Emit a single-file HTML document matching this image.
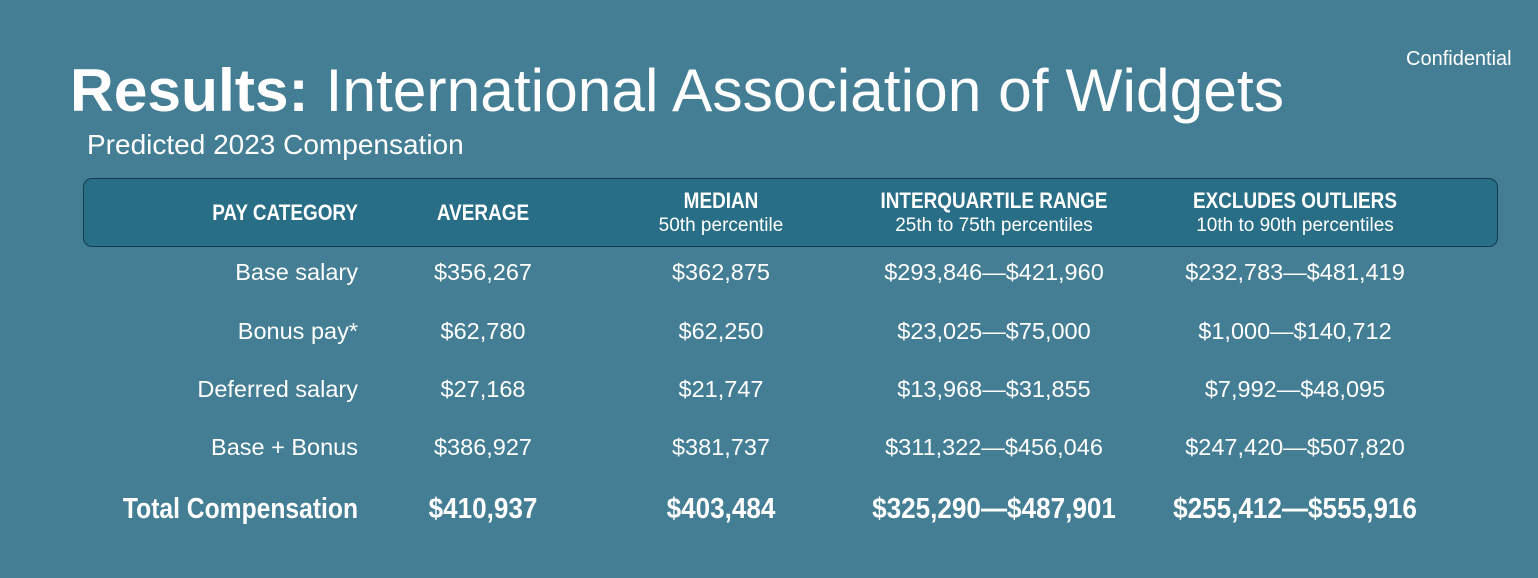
<!DOCTYPE html>
<html><head><style>
body{margin:0;width:1538px;height:578px;overflow:hidden;background:#437e94;font-family:"Liberation Sans",Arial,sans-serif;color:#fff;position:relative}
div{position:absolute;white-space:nowrap}
.c{transform:translateX(-50%);text-align:center}
.r{transform:translateX(-100%);text-align:right}
.h{font-weight:bold;font-size:22px;line-height:24px;transform-origin:0 0}
.h.c{transform:scaleX(.86) translateX(-50%)}
.h.r{transform:scaleX(.86) translateX(-100%)}
.s{font-size:19px;line-height:20px}
.v{font-size:23.5px;line-height:26px}
.t{font-weight:bold;font-size:29px;line-height:30px;transform-origin:0 0}
.t.c{transform:scaleX(.9) translateX(-50%)}
.t.r{transform:scaleX(.85) translateX(-100%)}
</style></head><body>
<div style="left:1406px;top:48px;font-size:20px">Confidential</div>
<div style="left:70px;top:56px;font-size:60.5px;line-height:68px"><b>Results:</b> International Association of Widgets</div>
<div style="left:87px;top:129px;font-size:28px;line-height:32px">Predicted 2023 Compensation</div>
<div style="left:83px;top:178px;width:1413px;height:67px;background:#296e87;border:1px solid #143c4c;border-radius:9px"></div>
<div class="h r" style="left:358px;top:201px">PAY CATEGORY</div>
<div class="h c" style="left:483px;top:201px">AVERAGE</div>
<div class="h c" style="left:721px;top:189px">MEDIAN</div>
<div class="s c" style="left:721px;top:216px">50th percentile</div>
<div class="h c" style="left:994px;top:189px">INTERQUARTILE RANGE</div>
<div class="s c" style="left:994px;top:216px">25th to 75th percentiles</div>
<div class="h c" style="left:1295px;top:189px">EXCLUDES OUTLIERS</div>
<div class="s c" style="left:1295px;top:216px">10th to 90th percentiles</div>

<div class="v r" style="left:358px;top:259px">Base salary</div>
<div class="v c" style="left:483px;top:259px">$356,267</div>
<div class="v c" style="left:721px;top:259px">$362,875</div>
<div class="v c" style="left:994px;top:259px">$293,846—$421,960</div>
<div class="v c" style="left:1295px;top:259px">$232,783—$481,419</div>

<div class="v r" style="left:358px;top:318px">Bonus pay*</div>
<div class="v c" style="left:483px;top:318px">$62,780</div>
<div class="v c" style="left:721px;top:318px">$62,250</div>
<div class="v c" style="left:994px;top:318px">$23,025—$75,000</div>
<div class="v c" style="left:1295px;top:318px">$1,000—$140,712</div>

<div class="v r" style="left:358px;top:376px">Deferred salary</div>
<div class="v c" style="left:483px;top:376px">$27,168</div>
<div class="v c" style="left:721px;top:376px">$21,747</div>
<div class="v c" style="left:994px;top:376px">$13,968—$31,855</div>
<div class="v c" style="left:1295px;top:376px">$7,992—$48,095</div>

<div class="v r" style="left:358px;top:434px">Base + Bonus</div>
<div class="v c" style="left:483px;top:434px">$386,927</div>
<div class="v c" style="left:721px;top:434px">$381,737</div>
<div class="v c" style="left:994px;top:434px">$311,322—$456,046</div>
<div class="v c" style="left:1295px;top:434px">$247,420—$507,820</div>

<div class="t r" style="left:358px;top:494px">Total Compensation</div>
<div class="t c" style="left:483px;top:494px">$410,937</div>
<div class="t c" style="left:721px;top:494px">$403,484</div>
<div class="t c" style="left:994px;top:494px">$325,290—$487,901</div>
<div class="t c" style="left:1295px;top:494px">$255,412—$555,916</div>
</body></html>
